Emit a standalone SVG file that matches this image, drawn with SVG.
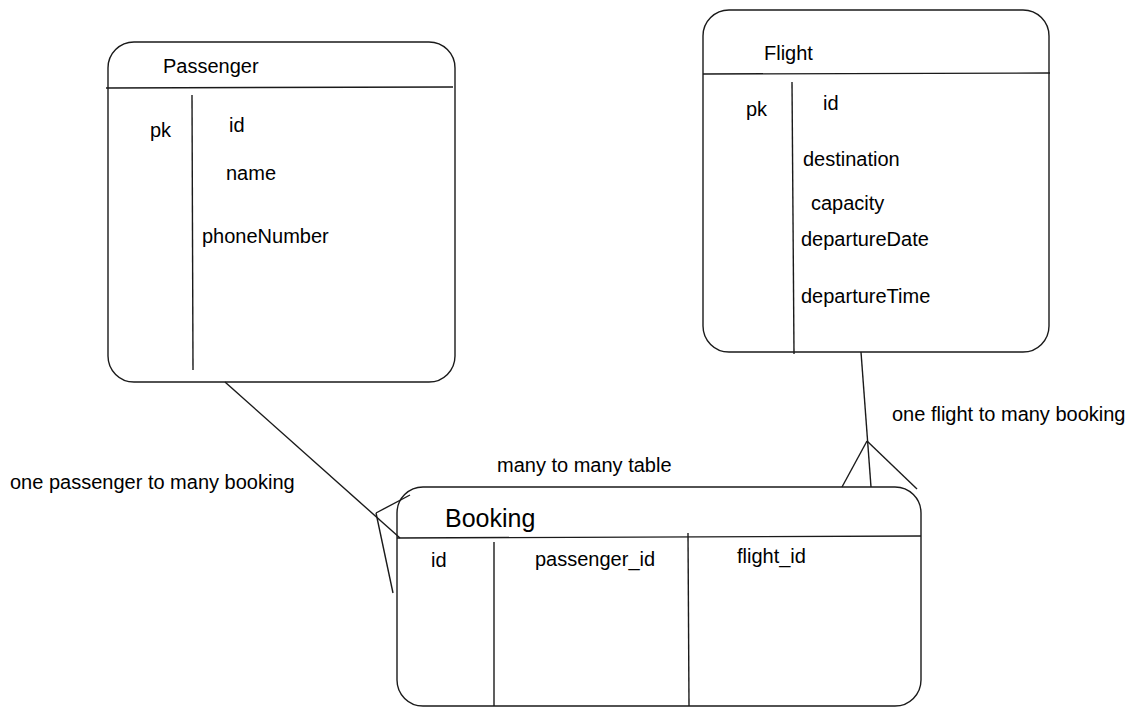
<svg xmlns="http://www.w3.org/2000/svg" width="1135" height="717" viewBox="0 0 1135 717">
<style>
.box{fill:none;stroke:#1a1a1a;stroke-width:1.4}
.ln{stroke:#1a1a1a;stroke-width:1.4;fill:none}
.t{font-family:"Liberation Sans",Arial,sans-serif;font-size:20px;fill:#000}
.big{font-size:25px}
</style>
<rect width="1135" height="717" fill="#fff"/>
<g id="passenger">
<rect class="box" x="108" y="42" width="347" height="340" rx="26"/>
<line class="ln" x1="106" y1="88" x2="453" y2="87"/>
<line class="ln" x1="192" y1="95" x2="193" y2="370"/>
<text class="t" x="163" y="73">Passenger</text>
<text class="t" x="150" y="137">pk</text>
<text class="t" x="229" y="132">id</text>
<text class="t" x="226" y="180">name</text>
<text class="t" x="202" y="243">phoneNumber</text>
</g>
<g id="flight">
<rect class="box" x="703" y="10" width="346" height="342" rx="26"/>
<line class="ln" x1="703" y1="74" x2="1050" y2="73"/>
<line class="ln" x1="792" y1="82" x2="794" y2="354"/>
<text class="t" x="764" y="60">Flight</text>
<text class="t" x="746" y="116">pk</text>
<text class="t" x="823" y="110">id</text>
<text class="t" x="803" y="166">destination</text>
<text class="t" x="811" y="210">capacity</text>
<text class="t" x="801" y="246">departureDate</text>
<text class="t" x="801" y="303">departureTime</text>
</g>
<g id="booking">
<rect class="box" x="397" y="487" width="524" height="219" rx="26"/>
<line class="ln" x1="397" y1="538" x2="921" y2="536"/>
<line class="ln" x1="494" y1="542" x2="494" y2="706"/>
<line class="ln" x1="688" y1="533" x2="689" y2="706"/>
<text class="t big" x="445" y="527">Booking</text>
<text class="t" x="431" y="567">id</text>
<text class="t" x="535" y="566">passenger_id</text>
<text class="t" x="737" y="563">flight_id</text>
</g>
<g id="connectors">
<line class="ln" x1="225" y1="382" x2="400" y2="538"/>
<line class="ln" x1="376" y1="513" x2="410" y2="495"/>
<line class="ln" x1="376" y1="513" x2="393" y2="593"/>
<line class="ln" x1="861" y1="352" x2="871" y2="487"/>
<line class="ln" x1="867" y1="441" x2="842" y2="487"/>
<line class="ln" x1="867" y1="441" x2="917" y2="489"/>
</g>
<g id="labels">
<text class="t" x="10" y="489">one passenger to many booking</text>
<text class="t" x="497" y="472">many to many table</text>
<text class="t" x="892" y="421">one flight to many booking</text>
</g>
</svg>
